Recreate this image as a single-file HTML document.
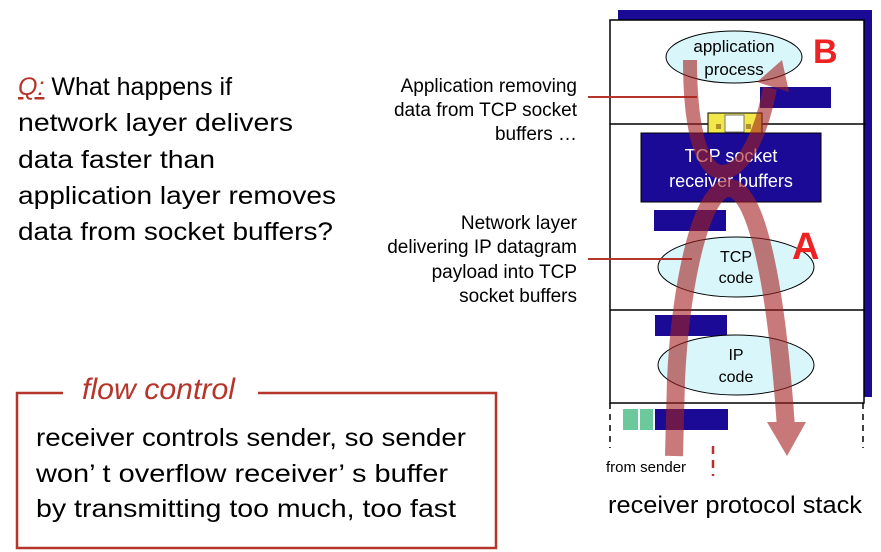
<!DOCTYPE html>
<html><head><meta charset="utf-8"><style>
html,body{margin:0;padding:0;background:#fff;}
svg{display:block;font-family:"Liberation Sans",sans-serif;}
</style></head><body>
<svg width="881" height="552" viewBox="0 0 881 552" xmlns="http://www.w3.org/2000/svg">
<!-- left question -->
<g font-size="25" fill="#000">
<text x="18" y="95"><tspan fill="#b5352a" font-style="italic" text-decoration="underline">Q:</tspan> What happens if</text>
<text x="18" y="131" textLength="275" lengthAdjust="spacingAndGlyphs">network layer delivers</text>
<text x="18" y="168" textLength="197" lengthAdjust="spacingAndGlyphs">data faster than</text>
<text x="18" y="204" textLength="318" lengthAdjust="spacingAndGlyphs">application layer removes</text>
<text x="18" y="240" textLength="315" lengthAdjust="spacingAndGlyphs">data from socket buffers?</text>
</g>
<!-- middle labels -->
<g font-size="19" text-anchor="end" fill="#000">
<text x="577" y="92">Application removing</text>
<text x="577" y="116">data from TCP socket</text>
<text x="577" y="140">buffers …</text>
<text x="577" y="229">Network layer</text>
<text x="577" y="253">delivering IP datagram</text>
<text x="577" y="278">payload into TCP</text>
<text x="577" y="302">socket buffers</text>
</g>
<!-- flow control box -->
<path d="M63 393 H17 V548 H496 V393 H258" fill="none" stroke="#b5352a" stroke-width="2.5"/>
<text x="82" y="399" font-size="30" font-style="italic" fill="#b5352a" textLength="153" lengthAdjust="spacingAndGlyphs">flow control</text>
<g font-size="25" fill="#000">
<text x="36" y="446" textLength="430" lengthAdjust="spacingAndGlyphs">receiver controls sender, so sender</text>
<text x="36" y="482" textLength="412" lengthAdjust="spacingAndGlyphs">won’ t overflow receiver’ s buffer</text>
<text x="36" y="517" textLength="420" lengthAdjust="spacingAndGlyphs">by transmitting too much, too fast</text>
</g>
<!-- stack -->
<rect x="618" y="10" width="254" height="387" fill="#1a0a96"/>
<rect x="610" y="20" width="254" height="383" fill="#fff" stroke="#000" stroke-width="1.5"/>
<line x1="610" y1="124" x2="866" y2="124" stroke="#000" stroke-width="1.5"/>
<line x1="610" y1="310" x2="864" y2="310" stroke="#000" stroke-width="1.5"/>
<line x1="610" y1="403" x2="610" y2="448" stroke="#000" stroke-width="1.5" stroke-dasharray="6,5"/>
<line x1="863" y1="403" x2="863" y2="448" stroke="#000" stroke-width="1.5" stroke-dasharray="6,5"/>
<ellipse cx="734" cy="57" rx="68" ry="26" fill="#d9f6fa" stroke="#000"/>
<text x="734" y="52" font-size="17" text-anchor="middle">application</text>
<text x="734" y="75" font-size="17" text-anchor="middle">process</text>
<rect x="760" y="87" width="71" height="21" fill="#1a0a96"/>
<rect x="708" y="113" width="54" height="21" fill="#f2e84a" stroke="#000"/>
<rect x="725" y="115" width="19" height="17" fill="#fff" stroke="#777"/>
<rect x="716" y="124" width="5" height="5" fill="#b0902a"/><rect x="746" y="124" width="5" height="5" fill="#b0902a"/>
<rect x="641" y="133" width="180" height="69" fill="#1a0a96" stroke="#000"/>
<text x="731" y="162" font-size="18" fill="#fff" text-anchor="middle">TCP socket</text>
<text x="731" y="187" font-size="18" fill="#fff" text-anchor="middle">receiver buffers</text>
<rect x="654" y="210" width="72" height="21" fill="#1a0a96"/>
<ellipse cx="736" cy="267" rx="78" ry="30" fill="#d9f6fa" stroke="#000"/>
<text x="736" y="262" font-size="16" text-anchor="middle">TCP</text>
<text x="736" y="283" font-size="16" text-anchor="middle">code</text>
<rect x="655" y="315" width="72" height="21" fill="#1a0a96"/>
<ellipse cx="736" cy="365" rx="78" ry="30" fill="#d9f6fa" stroke="#000"/>
<text x="736" y="360" font-size="16" text-anchor="middle">IP</text>
<text x="736" y="382" font-size="16" text-anchor="middle">code</text>
<rect x="623" y="409" width="15" height="21" fill="#6cc99c"/>
<rect x="640" y="409" width="13" height="21" fill="#6cc99c"/>
<rect x="655" y="409" width="73" height="21" fill="#1a0a96"/>
<!-- connector lines -->
<line x1="588" y1="97" x2="697" y2="97" stroke="#b5352a" stroke-width="2"/>
<line x1="588" y1="259" x2="692" y2="259" stroke="#b5352a" stroke-width="2"/>
<!-- arrows -->
<g opacity="0.6">
<path d="M674 456 L676 380 C680 290 700 190 728 188 C756 186 776 280 786 428" fill="none" stroke="#a52020" stroke-width="18"/>
<polygon points="767,422 806,422 787,456" fill="#a52020"/>
<path d="M690 60 C690 130 702 172 722 172 C745 172 762 130 770 88" fill="none" stroke="#a52020" stroke-width="14"/>
<polygon points="757,82 789,92 782,60" fill="#a52020"/>
</g>
<text x="813" y="63" font-size="34" font-weight="bold" fill="#ee2222">B</text>
<text x="792" y="259" font-size="38" font-weight="bold" fill="#ee2222">A</text>
<line x1="713" y1="446" x2="713" y2="476" stroke="#c0302a" stroke-width="2.5" stroke-dasharray="8,6"/>
<text x="606" y="472" font-size="15">from sender</text>
<text x="608" y="513" font-size="24" textLength="254" lengthAdjust="spacingAndGlyphs">receiver protocol stack</text>
</svg>
</body></html>
